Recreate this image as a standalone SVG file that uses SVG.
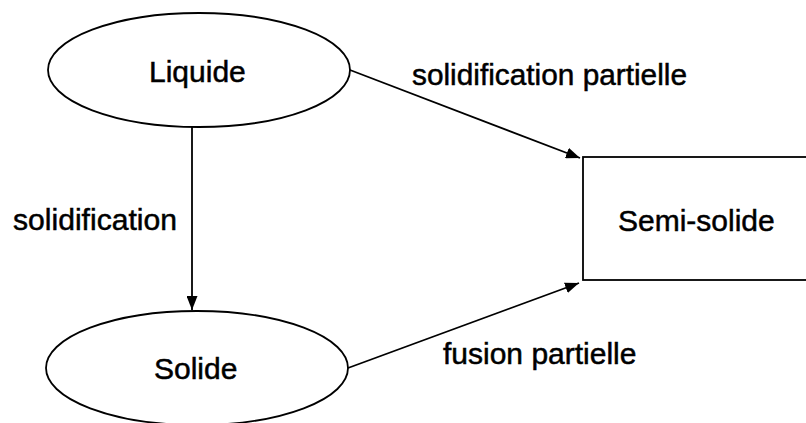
<svg xmlns="http://www.w3.org/2000/svg" width="806" height="423" viewBox="0 0 806 423">
<style>
.shape{fill:#fff;stroke:#000;stroke-width:1.8}
.lbl{font-family:"Liberation Sans",Arial,sans-serif;font-size:30px;fill:#000;stroke:#000;stroke-width:0.5}
.edge{stroke:#000;stroke-width:1.8;fill:none}
</style>
<defs>
<marker id="arr" markerWidth="14" markerHeight="11" refX="14" refY="5.5" orient="auto" markerUnits="userSpaceOnUse">
<path d="M0,0 L14,5.5 L0,11 Z" fill="#000"/>
</marker>
</defs>
<rect width="806" height="423" fill="#fff"/>
<g id="liquide">
<ellipse class="shape" cx="199" cy="70" rx="151" ry="57"/>
<text class="lbl" x="149" y="82">Liquide</text>
</g>
<g id="solide">
<ellipse class="shape" cx="197" cy="368" rx="151" ry="57"/>
<text class="lbl" x="154" y="379">Solide</text>
</g>
<g id="semi-solide">
<rect class="shape" x="583" y="157" width="240" height="123"/>
<text class="lbl" x="618" y="231">Semi-solide</text>
</g>
<g id="connectors">
<line class="edge" x1="192" y1="127" x2="192" y2="310" marker-end="url(#arr)"/>
<line class="edge" x1="350" y1="70" x2="580" y2="158" marker-end="url(#arr)"/>
<line class="edge" x1="348" y1="368" x2="579" y2="283" marker-end="url(#arr)"/>
<text class="lbl" x="13" y="230" textLength="164" lengthAdjust="spacingAndGlyphs">solidification</text>
<text class="lbl" x="412" y="85" textLength="275" lengthAdjust="spacingAndGlyphs">solidification partielle</text>
<text class="lbl" x="443" y="364">fusion partielle</text>
</g>
</svg>
